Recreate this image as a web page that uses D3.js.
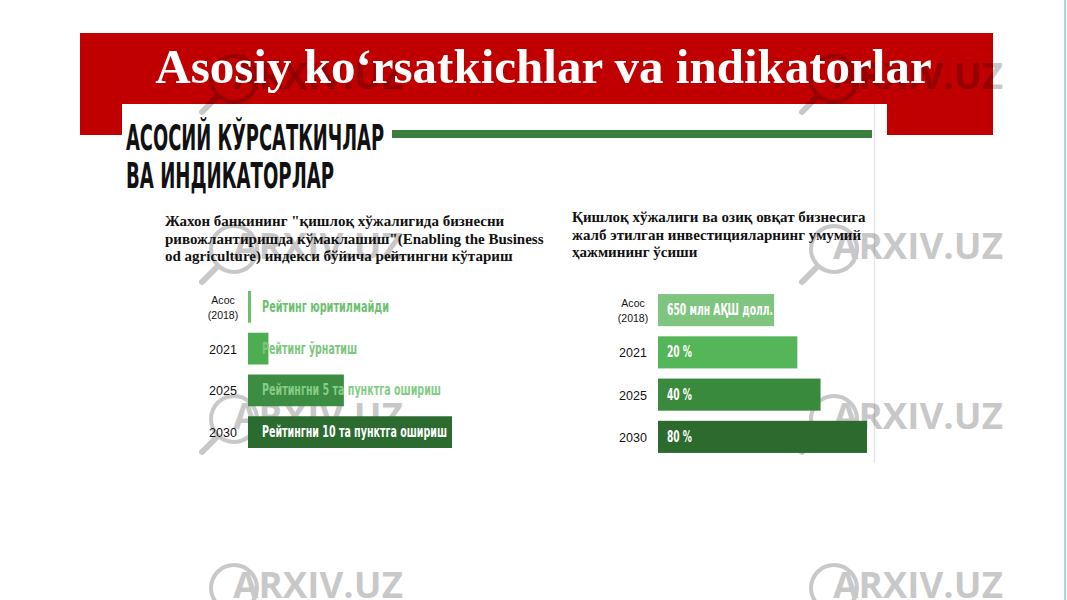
<!DOCTYPE html>
<html>
<head>
<meta charset="utf-8">
<script src="https://cdn.jsdelivr.net/npm/d3@7"></script>
<style>
  html, body { margin: 0; padding: 0; background: #ffffff; }
  svg { display: block; }
</style>
</head>
<body>
<svg id="chart" width="1067" height="600"></svg>
<script>
// ---------- data ----------
const slideTitle = "Asosiy ko‘rsatkichlar va indikatorlar";
const headingLines = ["АСОСИЙ КЎРСАТКИЧЛАР", "ВА ИНДИКАТОРЛАР"];
const leftSubtitle = [
  "Жахон банкининг \"қишлоқ хўжалигида бизнесни",
  "ривожлантиришда кўмаклашиш\"(Enabling the Business",
  "od agriculture) индекси бўйича рейтингни кўтариш"
];
const rightSubtitle = [
  "Қишлоқ хўжалиги ва озиқ овқат бизнесига",
  "жалб этилган инвестицияларнинг умумий",
  "ҳажмининг ўсиши"
];
const categories = ["Асос (2018)", "2021", "2025", "2030"];
const ratingValues = [0.15, 1.0, 4.7, 10];          // rating points gained
const ratingLabels = ["Рейтинг юритилмайди", "Рейтинг ўрнатиш", "Рейтингни 5 та пунктга ошириш", "Рейтингни 10 та пунктга ошириш"];
const investValues = [650, 780, 910, 1170];          // mln USD (base, +20%, +40%, +80%)
const investLabels = ["650 млн АҚШ долл.", "20 %", "40 %", "80 %"];
const watermarkText = "ARXIV.UZ";

// ---------- styles ----------
const leftColors = ["#6dbd6f", "#4cad51", "#3c8d41", "#2b6b2f"];
const rightColors = ["#7fc57f", "#55b559", "#3a8a3e", "#2c6a2e"];
const leftTextColors = ["#6fbf72", "#7cc67e", "#86cc88", "#ffffff"];
const condensed = "'DejaVu Sans Condensed', 'Liberation Sans Narrow', 'DejaVu Sans', sans-serif";
const serif = "'Liberation Serif', 'Times New Roman', serif";

const svg = d3.select("#chart");

// red banner
svg.append("rect").attr("x", 80).attr("y", 33).attr("width", 913).attr("height", 102).attr("fill", "#c00000");

// white picture panel
svg.append("rect").attr("x", 122).attr("y", 104).attr("width", 765).attr("height", 361).attr("fill", "#ffffff");
svg.append("line").attr("x1", 874.5).attr("x2", 874.5).attr("y1", 104).attr("y2", 463)
  .attr("stroke", "#e6e6e6").attr("stroke-width", 1.5);

// watermarks (behind title and bars)
const wmCols = [233, 833], wmRows = [89, 259, 429, 598];
const wm = svg.append("g").attr("opacity", 0.21);
wmCols.forEach(cx => wmRows.forEach(by => {
  wm.append("circle").attr("cx", cx + 1).attr("cy", by - 10).attr("r", 23)
    .attr("fill", "none").attr("stroke", "#000").attr("stroke-width", 4);
  wm.append("line").attr("x1", cx - 16).attr("y1", by + 8).attr("x2", cx - 31).attr("y2", by + 23)
    .attr("stroke", "#000").attr("stroke-width", 6).attr("stroke-linecap", "round");
  wm.append("text").attr("x", cx).attr("y", by)
    .attr("font-family", "'Open Sans', 'DejaVu Sans', sans-serif").attr("font-weight", "bold").attr("font-size", 36)
    .attr("textLength", 170).attr("lengthAdjust", "spacingAndGlyphs")
    .attr("fill", "#000").text(watermarkText);
}));

// slide title
svg.append("text").attr("x", 543.5).attr("y", 83).attr("text-anchor", "middle")
  .attr("font-family", serif).attr("font-weight", "bold")
  .attr("font-size", 49).attr("fill", "#ffffff").text(slideTitle);

// heading
const headBase = [150, 188], headLen = [258, 208];
headingLines.forEach((t, i) => {
  svg.append("text").attr("x", 126).attr("y", headBase[i])
    .attr("font-family", condensed).attr("font-weight", "bold").attr("font-size", 36)
    .attr("textLength", headLen[i]).attr("lengthAdjust", "spacingAndGlyphs")
    .attr("fill", "#111").text(t);
});
svg.append("rect").attr("x", 392).attr("y", 130).attr("width", 480).attr("height", 8).attr("fill", "#3a7d3c");

// subtitles
function subtitle(lines, x, y0) {
  lines.forEach((t, i) => {
    svg.append("text").attr("x", x).attr("y", y0 + i * 17.5)
      .attr("font-family", serif).attr("font-weight", "bold")
      .attr("font-size", 15).attr("fill", "#111").text(t);
  });
}
subtitle(leftSubtitle, 165, 226);
subtitle(rightSubtitle, 572, 222);

// bar panels
function panel(values, labels, colors, textColors, domainMax, x0, x1, y0, y1, textOffset, textLens) {
  const x = d3.scaleLinear().domain([0, domainMax]).range([x0, x1]);
  const y = d3.scaleBand().domain(categories).range([y0, y1]).paddingInner(0.24).paddingOuter(0.12);
  const g = svg.append("g");
  g.selectAll("rect.bar").data(categories).join("rect").attr("class", "bar")
    .attr("x", x(0)).attr("y", d => y(d))
    .attr("width", (d, i) => x(values[i]) - x(0)).attr("height", y.bandwidth())
    .attr("fill", (d, i) => colors[i]);
  g.selectAll("text.val").data(categories).join("text").attr("class", "val")
    .attr("x", x(0) + textOffset).attr("y", d => y(d) + y.bandwidth() / 2 + 5)
    .attr("font-family", condensed).attr("font-weight", "bold").attr("font-size", 15)
    .attr("textLength", (d, i) => textLens[i]).attr("lengthAdjust", "spacingAndGlyphs")
    .attr("fill", (d, i) => textColors[i]).text((d, i) => labels[i]);
  // category axis labels
  const lx = x(0) - 25;
  categories.forEach(c => {
    const cy = y(c) + y.bandwidth() / 2;
    const parts = c.split(" ");
    if (parts.length > 1) {
      parts.forEach((p, j) => {
        svg.append("text").attr("x", lx).attr("y", cy - 3 + j * 15).attr("text-anchor", "middle")
          .attr("font-family", "'Liberation Sans', Arial, sans-serif").attr("font-size", 10.5)
          .attr("fill", "#111").text(p);
      });
    } else {
      svg.append("text").attr("x", lx).attr("y", cy + 5).attr("text-anchor", "middle")
        .attr("font-family", "'Liberation Sans', Arial, sans-serif").attr("font-size", 12.5)
        .attr("fill", "#111").text(c);
    }
  });
}
panel(ratingValues, ratingLabels, leftColors, leftTextColors, 10, 248, 452, 286, 453, 14, [127, 95, 179, 185]);
panel(investValues, investLabels, rightColors, ["#fff", "#fff", "#fff", "#fff"], 1170, 658, 867, 289, 458, 9, [106, 25, 25, 25]);

// right edge line
svg.append("rect").attr("x", 1064).attr("y", 0).attr("width", 2).attr("height", 600).attr("fill", "#a6d5e6");
</script>
</body>
</html>
